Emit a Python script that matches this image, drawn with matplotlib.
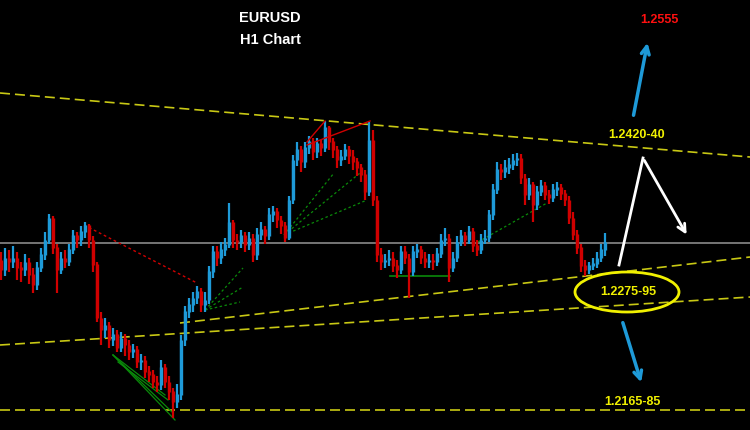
# EURUSD H1 chart with trend lines and target levels
import numpy as np
import matplotlib.pyplot as plt
from matplotlib.patches import Ellipse

plt.rcParams['font.family'] = ['Liberation Sans', 'DejaVu Sans']

# hourly closes
closes = [
    1.2315, 1.2327, 1.2323, 1.2327, 1.2317, 1.2315, 1.2323, 1.2310, 1.2300, 1.2317,
    1.2330, 1.2345, 1.2367, 1.2337, 1.2315, 1.2327, 1.2323, 1.2335, 1.2349, 1.2345,
    1.2353, 1.2359, 1.2345, 1.2320, 1.2267, 1.2255, 1.2260, 1.2245, 1.2250, 1.2237,
    1.2247, 1.2240, 1.2233, 1.2235, 1.2223, 1.2225, 1.2213, 1.2210, 1.2203, 1.2200,
    1.2217, 1.2203, 1.2193, 1.2183, 1.2190, 1.2245, 1.2273, 1.2280, 1.2287, 1.2293,
    1.2280, 1.2285, 1.2313, 1.2333, 1.2327, 1.2335, 1.2340, 1.2363, 1.2345, 1.2343,
    1.2349, 1.2340, 1.2347, 1.2330, 1.2350, 1.2355, 1.2349, 1.2370, 1.2373, 1.2365,
    1.2359, 1.2347, 1.2385, 1.2425, 1.2435, 1.2423, 1.2437, 1.2443, 1.2433, 1.2441,
    1.2437, 1.2457, 1.2443, 1.2435, 1.2425, 1.2429, 1.2435, 1.2429, 1.2423, 1.2417,
    1.2410, 1.2393, 1.2445, 1.2385, 1.2330, 1.2323, 1.2325, 1.2327, 1.2319, 1.2315,
    1.2333, 1.2327, 1.2313, 1.2333, 1.2335, 1.2327, 1.2323, 1.2325, 1.2323, 1.2331,
    1.2345, 1.2347, 1.2317, 1.2327, 1.2343, 1.2349, 1.2345, 1.2353, 1.2339, 1.2335,
    1.2345, 1.2347, 1.2370, 1.2395, 1.2415, 1.2413, 1.2417, 1.2420, 1.2425, 1.2427,
    1.2407, 1.2390, 1.2400, 1.2380, 1.2393, 1.2399, 1.2390, 1.2387, 1.2395, 1.2397,
    1.2391, 1.2385, 1.2367, 1.2350, 1.2337, 1.2319, 1.2315, 1.2319, 1.2321, 1.2327,
    1.2335, 1.2343,
]
first_open = 1.2325

highs = [
    1.2333, 1.2337, 1.2335, 1.2339, 1.2333, 1.2323, 1.2331, 1.2327, 1.2317, 1.2323,
    1.2337, 1.2353, 1.2371, 1.2369, 1.2341, 1.2333, 1.2335, 1.2341, 1.2355, 1.2353,
    1.2359, 1.2363, 1.2361, 1.2349, 1.2323, 1.2273, 1.2267, 1.2263, 1.2257, 1.2255,
    1.2253, 1.2251, 1.2245, 1.2241, 1.2239, 1.2231, 1.2229, 1.2219, 1.2215, 1.2209,
    1.2225, 1.2221, 1.2209, 1.2197, 1.2201, 1.2250, 1.2279, 1.2287, 1.2293, 1.2299,
    1.2297, 1.2293, 1.2319, 1.2339, 1.2339, 1.2343, 1.2347, 1.2382, 1.2365, 1.2351,
    1.2355, 1.2353, 1.2353, 1.2351, 1.2357, 1.2363, 1.2359, 1.2377, 1.2379, 1.2377,
    1.2369, 1.2363, 1.2389, 1.2430, 1.2443, 1.2439, 1.2443, 1.2449, 1.2447, 1.2447,
    1.2445, 1.2464, 1.2459, 1.2447, 1.2439, 1.2435, 1.2441, 1.2439, 1.2435, 1.2427,
    1.2421, 1.2415, 1.2463, 1.2455, 1.2389, 1.2337, 1.2331, 1.2335, 1.2333, 1.2325,
    1.2339, 1.2339, 1.2331, 1.2339, 1.2341, 1.2339, 1.2333, 1.2331, 1.2331, 1.2337,
    1.2351, 1.2357, 1.2351, 1.2333, 1.2349, 1.2355, 1.2353, 1.2359, 1.2357, 1.2345,
    1.2351, 1.2355, 1.2375, 1.2401, 1.2423, 1.2421, 1.2425, 1.2427, 1.2431, 1.2432,
    1.2431, 1.2411, 1.2407, 1.2403, 1.2399, 1.2405, 1.2403, 1.2395, 1.2401, 1.2403,
    1.2401, 1.2395, 1.2389, 1.2373, 1.2355, 1.2341, 1.2325, 1.2323, 1.2327, 1.2333,
    1.2341, 1.2352,
]

lows = [
    1.2305, 1.2309, 1.2313, 1.2317, 1.2305, 1.2303, 1.2309, 1.2301, 1.2292, 1.2295,
    1.2313, 1.2325, 1.2341, 1.2331, 1.2292, 1.2311, 1.2317, 1.2319, 1.2331, 1.2337,
    1.2339, 1.2347, 1.2337, 1.2313, 1.2263, 1.2240, 1.2247, 1.2237, 1.2239, 1.2233,
    1.2233, 1.2229, 1.2225, 1.2227, 1.2217, 1.2215, 1.2207, 1.2203, 1.2197, 1.2193,
    1.2195, 1.2197, 1.2185, 1.2167, 1.2177, 1.2185, 1.2239, 1.2267, 1.2273, 1.2281,
    1.2273, 1.2273, 1.2281, 1.2307, 1.2319, 1.2321, 1.2329, 1.2337, 1.2337, 1.2335,
    1.2337, 1.2333, 1.2335, 1.2323, 1.2325, 1.2345, 1.2341, 1.2345, 1.2363, 1.2357,
    1.2351, 1.2343, 1.2345, 1.2381, 1.2419, 1.2413, 1.2417, 1.2431, 1.2425, 1.2427,
    1.2429, 1.2433, 1.2435, 1.2427, 1.2417, 1.2419, 1.2425, 1.2421, 1.2415, 1.2409,
    1.2403, 1.2385, 1.2389, 1.2379, 1.2323, 1.2315, 1.2317, 1.2319, 1.2313, 1.2307,
    1.2311, 1.2321, 1.2287, 1.2309, 1.2327, 1.2321, 1.2317, 1.2317, 1.2315, 1.2319,
    1.2327, 1.2339, 1.2303, 1.2313, 1.2323, 1.2339, 1.2339, 1.2341, 1.2333, 1.2329,
    1.2331, 1.2341, 1.2343, 1.2365, 1.2391, 1.2405, 1.2407, 1.2411, 1.2415, 1.2419,
    1.2401, 1.2380, 1.2385, 1.2363, 1.2375, 1.2389, 1.2385, 1.2381, 1.2383, 1.2389,
    1.2385, 1.2379, 1.2361, 1.2345, 1.2331, 1.2313, 1.2309, 1.2311, 1.2315, 1.2317,
    1.2323, 1.2329,
]

current_level = 1.2342

# trend lines (bar index, price)
upper_line = ([-0.25, 187.25], [1.2492, 1.2428])
support_a = ([44.75, 187.25], [1.2262, 1.2328])
support_b = ([-0.25, 187.25], [1.2240, 1.2288])
bottom_level = 1.2175

# labels
title_lines = ['EURUSD', 'H1 Chart']
target_up = '1.2555'
resistance = '1.2420-40'
pivot = '1.2275-95'
target_down = '1.2165-85'

up_col = '#1e9ad8'
down_col = '#d00000'
yel = '#c8c814'

opens = [first_open] + closes[:-1]
x = np.arange(len(closes))
o = np.array(opens)
c = np.array(closes)
cols = [up_col if cc >= oo else down_col for oo, cc in zip(o, c)]

fig = plt.figure(figsize=(7.5, 4.3), dpi=100, facecolor='black')
ax = fig.add_axes([0, 0, 1, 1])
ax.set_facecolor('black')
ax.set_xlim(-0.25, 187.25)
ax.set_ylim(1.2155, 1.2585)
ax.axis('off')

# gray current price line
ax.axhline(current_level, color='#8a8a8a', lw=1.2, zorder=1)

# yellow dashed trend lines
for xs, ys in [upper_line, support_a, support_b]:
    ax.plot(xs, ys, color=yel, lw=1.2, dashes=(6, 3), zorder=2)
ax.axhline(bottom_level, color=yel, lw=1.2, dashes=(6, 3), zorder=2)

# candles
ax.vlines(x, lows, highs, colors=cols, lw=1.6, zorder=3)
ax.vlines(x, np.minimum(o, c), np.maximum(o, c) + 0.00005, colors=cols, lw=2.4, zorder=3)

# helper lines drawn on the chart
ax.plot([20.75, 49], [1.2360, 1.2302], color=down_col, lw=1, ls=(0, (2, 2)), zorder=2)
ax.plot([76.5, 81], [1.2443, 1.2464], color=down_col, lw=1, zorder=4)
ax.plot([76.5, 92.25], [1.2440, 1.2464], color=down_col, lw=1, zorder=4)

green = '#0a8a0a'
for ex, ey in [(60.5, 1.2317), (60.5, 1.2298), (59.75, 1.2283)]:
    ax.plot([51, ex], [1.2275, ey], color=green, lw=0.9, ls=(0, (2, 2)), zorder=2)
for ex, ey in [(83.25, 1.2412), (89.75, 1.2412), (91.5, 1.2385)]:
    ax.plot([70.75, ex], [1.2350, ey], color=green, lw=0.9, ls=(0, (2, 2)), zorder=2)
ax.plot([119.25, 136.5], [1.2343, 1.2382], color=green, lw=0.9, ls=(0, (2, 2)), zorder=2)
ax.plot([97.25, 112.25], [1.2309, 1.2309], color=green, lw=1.2, zorder=2)
for ex, ey in [(43.5, 1.2165), (42.75, 1.2173), (41, 1.2190)]:
    ax.plot([28, ex], [1.2230, ey], color=green, lw=0.9, zorder=2)
ax.plot([29.25, 41.75], [1.2223, 1.2185], color=green, lw=0.9, zorder=2)

# pivot ellipse
ax.add_patch(Ellipse((156.5, 1.2293), 26, 0.0040, fill=False, ec='#f0f000', lw=2, zorder=5))

# arrows
ax.annotate('', xy=(161.75, 1.2545), xytext=(158, 1.2467),
            arrowprops=dict(arrowstyle='->', color=up_col, lw=2.5, mutation_scale=14))
ax.annotate('', xy=(160.25, 1.2200), xytext=(155.25, 1.2265),
            arrowprops=dict(arrowstyle='->', color=up_col, lw=2.5, mutation_scale=14))
ax.plot([154.5, 160.5], [1.2320, 1.2427], color='white', lw=2, zorder=5)
ax.annotate('', xy=(171.75, 1.2348), xytext=(160.5, 1.2427),
            arrowprops=dict(arrowstyle='->', color='white', lw=2, mutation_scale=14))

# text
tkw = dict(ha='center', va='center', fontweight='bold', zorder=6)
ax.text(67.25, 1.2567, title_lines[0], color='white', fontsize=10.5, **tkw)
ax.text(67.25, 1.2545, title_lines[1], color='white', fontsize=10.5, **tkw)
ax.text(164.5, 1.2565, target_up, color='#ff1010', fontsize=9, **tkw)
ax.text(159, 1.2450, resistance, color='#f0f000', fontsize=9, **tkw)
ax.text(156.75, 1.2293, pivot, color='#f0f000', fontsize=9, **tkw)
ax.text(157.75, 1.2183, target_down, color='#f0f000', fontsize=9, **tkw)

fig.savefig('out.png', dpi=100, facecolor='black')
